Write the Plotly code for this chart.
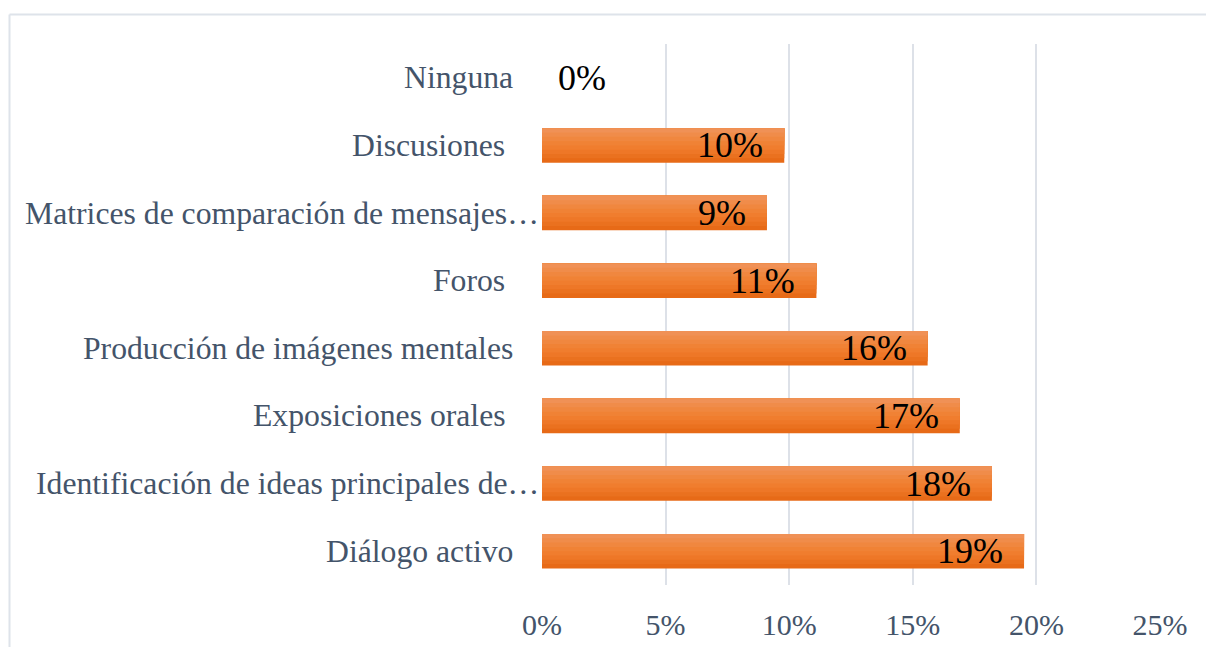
import plotly.graph_objects as go

# Data (bottom to top)
categories = [
    "Diálogo activo",
    "Identificación de ideas principales de…",
    "Exposiciones orales ",
    "Producción de imágenes mentales",
    "Foros ",
    "Matrices de comparación de mensajes…",
    "Discusiones ",
    "Ninguna",
]
values = [19.5, 18.2, 16.9, 15.6, 11.1, 9.1, 9.8, 0.0]
data_labels = ["19%", "18%", "17%", "16%", "11%", "9%", "10%", "0%"]
x_ticks = [0, 5, 10, 15, 20, 25]
x_tick_labels = ["0%", "5%", "10%", "15%", "20%", "25%"]

W, H = 1206, 647
ML, MR, MT, MB = 542, 46, 44, 62
PW, PH = W - ML - MR, H - MT - MB

FONT = "Liberation Serif"
LABEL_COLOR = "#44546A"

# vertical gradient approximated by stacked strips (bottom dark -> top light)
grad = ["#E76A17", "#EA711F", "#EE7727", "#F07D2E", "#F08235", "#F0873F", "#F08C4A", "#F09156"]
bar_w = 0.51
n = len(grad)
fig = go.Figure()
for i, c in enumerate(grad):
    fig.add_trace(go.Bar(
        y=categories, x=values, orientation="h",
        width=bar_w - i * bar_w / n, offset=-bar_w / 2 + i * bar_w / n,
        marker=dict(color=c, line=dict(width=0)),
        hoverinfo="skip", showlegend=False,
    ))

annotations = []
for cat, v, lab in zip(categories, values, data_labels):
    truncated = cat.endswith("…")
    annotations.append(dict(
        x=0, xref="paper", y=cat, yref="y",
        text=cat.replace(" ", "\u00a0"),
        xanchor="right", yanchor="middle",
        xshift=-1 if truncated else -27,
        showarrow=False,
        font=dict(family=FONT, size=31.7, color=LABEL_COLOR),
    ))
    annotations.append(dict(
        x=v, xref="x", y=cat, yref="y",
        text=lab,
        xanchor="right" if v > 0 else "left",
        xshift=-19 if v > 0 else 14,
        yanchor="middle",
        showarrow=False,
        font=dict(family=FONT, size=36, color="#000000"),
    ))

# outer frame lines (chart area border)
fx0 = (9.5 - ML) / PW
fy0 = (H - MB - 14.5) / PH
fy_bottom = -(MB + 5) / PH
fx_right = (W + 5 - ML) / PW
border = "#DEE3EA"
shapes = [
    dict(type="line", xref="paper", yref="paper", x0=fx0, x1=fx_right, y0=fy0, y1=fy0,
         line=dict(color=border, width=2)),
    dict(type="line", xref="paper", yref="paper", x0=fx0, x1=fx0, y0=fy0, y1=fy_bottom,
         line=dict(color=border, width=2)),
]

fig.update_layout(
    width=W, height=H,
    margin=dict(l=ML, r=MR, t=MT, b=MB, pad=0, autoexpand=False),
    paper_bgcolor="white", plot_bgcolor="white",
    barmode="overlay",
    xaxis=dict(
        range=[0, 25], tickvals=x_ticks, ticktext=x_tick_labels,
        showgrid=True, gridcolor="#DDE1E8", gridwidth=2,
        zeroline=False, showline=False, ticks="",
        tickfont=dict(family=FONT, size=30, color=LABEL_COLOR),
        ticklabelstandoff=19,
        automargin=False,
        fixedrange=True,
    ),
    yaxis=dict(
        type="category", categoryorder="array", categoryarray=categories,
        range=[-0.5, 7.5], showticklabels=False, showgrid=False,
        zeroline=False, showline=False, ticks="",
        automargin=False,
        fixedrange=True,
    ),
    annotations=annotations,
    shapes=shapes,
    font=dict(family=FONT),
)

fig.write_html(
    "out.html",
    config={"displayModeBar": False},
    post_script="document.body.style.margin='0';document.body.style.overflow='hidden';",
)
